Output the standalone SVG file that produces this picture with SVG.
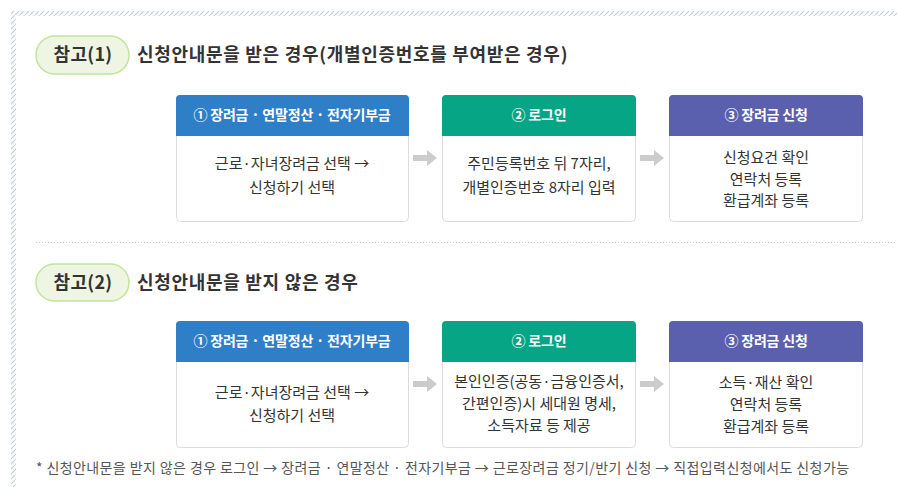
<svg xmlns="http://www.w3.org/2000/svg" width="897" height="487" viewBox="0 0 897 487">
<defs>
<pattern id="hatch" width="5" height="5" patternUnits="userSpaceOnUse">
<rect width="5" height="5" fill="#fff"/>
<path d="M-1,6 L6,-1" stroke="#c9ccd8" stroke-width="1.2"/>
</pattern>
<style>
text{font-family:"Noto Sans CJK KR","Noto Sans",sans-serif;}
.pill{fill:#eef6e3;stroke:#c4e39b;stroke-width:1.5;}
.pt{font-size:18px;font-weight:bold;fill:#333;text-anchor:middle;letter-spacing:0.3px;}
.tt{font-size:18px;font-weight:bold;fill:#333;letter-spacing:0.7px;}
.hd{font-size:14px;font-weight:bold;fill:#fff;text-anchor:middle;letter-spacing:-0.2px;}
.bd{fill:#fff;stroke:#dcdcdc;stroke-width:1;}
.bt{font-size:15px;fill:#333;text-anchor:middle;}
.arr{fill:#cccccc;}
.ft{font-size:14px;fill:#555;letter-spacing:0.4px;}
</style>
</defs>
<rect width="897" height="487" fill="#fff"/>
<rect x="11" y="11" width="886" height="5" fill="url(#hatch)"/>
<rect x="11" y="11" width="5" height="476" fill="url(#hatch)"/>

<g id="section1">
<rect class="pill" x="36" y="36" width="93" height="38" rx="19"/>
<text class="pt" x="83" y="61">참고(1)</text>
<text class="tt" x="137" y="61">신청안내문을 받은 경우(개별인증번호를 부여받은 경우)</text>
</g>

<g id="r1n1">
<rect class="bd" x="176.5" y="95.5" width="232" height="126" rx="4"/>
<path d="M176,136 V99 a4,4 0 0 1 4,-4 H405 a4,4 0 0 1 4,4 V136 Z" fill="#2f7ec8"/>
<text class="hd" x="292" y="120">① 장려금 · 연말정산 · 전자기부금</text>
<text class="bt" x="292" y="169">근로·자녀장려금 선택 →</text>
<text class="bt" x="292" y="193">신청하기 선택</text>
</g>
<g id="r1n2">
<rect class="bd" x="442.5" y="95.5" width="193" height="126" rx="4"/>
<path d="M442,136 V99 a4,4 0 0 1 4,-4 H632 a4,4 0 0 1 4,4 V136 Z" fill="#06a585"/>
<text class="hd" x="539" y="120">② 로그인</text>
<text class="bt" x="539" y="169">주민등록번호 뒤 7자리,</text>
<text class="bt" x="539" y="193">개별인증번호 8자리 입력</text>
</g>
<g id="r1n3">
<rect class="bd" x="669.5" y="95.5" width="193" height="126" rx="4"/>
<path d="M669,136 V99 a4,4 0 0 1 4,-4 H859 a4,4 0 0 1 4,4 V136 Z" fill="#5a5fae"/>
<text class="hd" x="766" y="120">③ 장려금 신청</text>
<text class="bt" x="766" y="163">신청요건 확인</text>
<text class="bt" x="766" y="185">연락처 등록</text>
<text class="bt" x="766" y="206">환급계좌 등록</text>
</g>

<line x1="36" y1="242.5" x2="897" y2="242.5" stroke="#cfcfcf" stroke-width="1" stroke-dasharray="1,2"/>

<g id="section2">
<rect class="pill" x="36" y="264" width="93" height="37" rx="18.5"/>
<text class="pt" x="83" y="289">참고(2)</text>
<text class="tt" x="137" y="289">신청안내문을 받지 않은 경우</text>
</g>

<g id="r2n1">
<rect class="bd" x="176.5" y="321.5" width="232" height="126" rx="4"/>
<path d="M176,362 V325 a4,4 0 0 1 4,-4 H405 a4,4 0 0 1 4,4 V362 Z" fill="#2f7ec8"/>
<text class="hd" x="292" y="346">① 장려금 · 연말정산 · 전자기부금</text>
<text class="bt" x="292" y="398">근로·자녀장려금 선택 →</text>
<text class="bt" x="292" y="421">신청하기 선택</text>
</g>
<g id="r2n2">
<rect class="bd" x="442.5" y="321.5" width="193" height="126" rx="4"/>
<path d="M442,362 V325 a4,4 0 0 1 4,-4 H632 a4,4 0 0 1 4,4 V362 Z" fill="#06a585"/>
<text class="hd" x="539" y="346">② 로그인</text>
<text class="bt" x="539" y="387">본인인증(공동·금융인증서,</text>
<text class="bt" x="539" y="409">간편인증)시 세대원 명세,</text>
<text class="bt" x="539" y="431">소득자료 등 제공</text>
</g>
<g id="r2n3">
<rect class="bd" x="669.5" y="321.5" width="193" height="126" rx="4"/>
<path d="M669,362 V325 a4,4 0 0 1 4,-4 H859 a4,4 0 0 1 4,4 V362 Z" fill="#5a5fae"/>
<text class="hd" x="766" y="346">③ 장려금 신청</text>
<text class="bt" x="766" y="388">소득·재산 확인</text>
<text class="bt" x="766" y="410">연락처 등록</text>
<text class="bt" x="766" y="432">환급계좌 등록</text>
</g>

<g id="connectors">
<path class="arr" d="M413,155 H427 V150 L437,158 L427,166 V161 H413 Z"/>
<path class="arr" d="M640,155 H654 V150 L664,158 L654,166 V161 H640 Z"/>
<path class="arr" d="M413,381 H427 V376 L437,384 L427,392 V387 H413 Z"/>
<path class="arr" d="M640,381 H654 V376 L664,384 L654,392 V387 H640 Z"/>
</g>

<text class="ft" x="36" y="473">* 신청안내문을 받지 않은 경우 로그인 → 장려금 · 연말정산 · 전자기부금 → 근로장려금 정기/반기 신청 → 직접입력신청에서도 신청가능</text>
</svg>
